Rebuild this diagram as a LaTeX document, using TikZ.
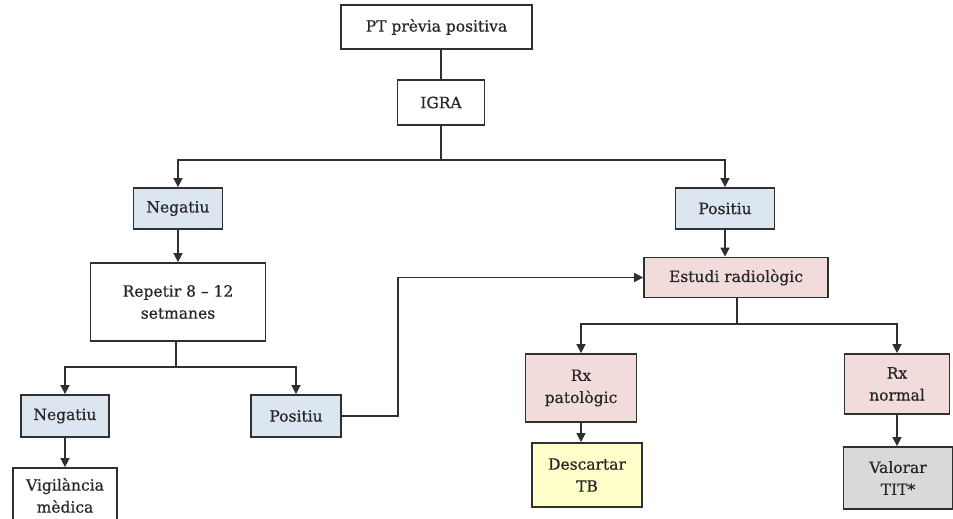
\documentclass[tikz,border=0pt]{standalone}
\usepackage{fontspec}
\setmainfont[FakeBold=0.6]{DejaVu Serif}
\usetikzlibrary{arrows.meta,calc}
\definecolor{ln}{HTML}{303030}
\definecolor{txt}{HTML}{262626}
\definecolor{bluef}{HTML}{DCE6F1}
\definecolor{pinkf}{HTML}{F2DCDB}
\definecolor{yelf}{HTML}{FFFFCC}
\definecolor{grayf}{HTML}{D9D9D9}
\tikzset{
  box/.style={draw=ln, line width=1.7pt, fill=white, inner sep=0pt, align=center,
    text=txt, font=\fontsize{15.5}{22}\selectfont},
  bluebox/.style={box, fill=bluef},
  pinkbox/.style={box, fill=pinkf},
  yelbox/.style={box, fill=yelf},
  graybox/.style={box, fill=grayf},
  conn/.style={draw=ln, line width=1.4pt},
  arr/.style={conn, -{Triangle[length=9pt,width=9pt]}}
}
\begin{document}
\begin{tikzpicture}[x=1pt,y=-1pt]
\useasboundingbox (0,0) rectangle (953,519);
\clip (0,0) rectangle (953,519);
% nodes
\node[box, minimum width=191pt, minimum height=44pt] (pt) at (436.5,27) {PT prèvia positiva};
\node[box, minimum width=87pt, minimum height=45pt] (igra) at (441,102.5) {IGRA};
\node[bluebox, minimum width=89pt, minimum height=41pt] (neg1) at (178,208.5) {Negatiu};
\node[bluebox, minimum width=99pt, minimum height=41pt] (pos1) at (725,208.5) {Positiu};
\node[box, minimum width=175pt, minimum height=78pt] (rep) at (178,302) {Repetir 8 – 12\\setmanes};
\node[bluebox, minimum width=88pt, minimum height=42pt] (neg2) at (65,416) {Negatiu};
\node[bluebox, minimum width=90pt, minimum height=42pt] (pos2) at (296,416) {Positiu};
\node[box, minimum width=104pt, minimum height=55pt] (vig) at (65,495.5) {Vigilància\\mèdica};
\node[pinkbox, minimum width=184pt, minimum height=40pt] (est) at (736,277.5) {Estudi radiològic};
\node[pinkbox, minimum width=111pt, minimum height=68pt] (rxp) at (581,388) {Rx\\patològic};
\node[yelbox, minimum width=110pt, minimum height=64pt] (desc) at (587,475) {Descartar\\TB};
\node[pinkbox, minimum width=105pt, minimum height=60pt] (rxn) at (897,384) {Rx\\normal};
\node[graybox, minimum width=109pt, minimum height=62pt] (val) at (898,478) {Valorar\\TIT*};
% coordinates
\coordinate (s1) at (441,160);
\coordinate (s2) at (176,367);
\coordinate (s3) at (737,324);
\coordinate (k) at (398,277.5);
% connectors
\draw[conn] (pt.south -| igra.north) -- (igra.north);
\draw[conn] (igra.south) -- (s1);
\draw[arr] (s1) -| (neg1.north);
\draw[arr] (s1) -| (pos1.north);
\draw[arr] (neg1.south) -- (neg1.south |- rep.north);
\draw[arr] (pos1.south) -- (pos1.south |- est.north);
\draw[conn] (rep.south -| s2) -- (s2);
\draw[arr] (s2) -| (neg2.north);
\draw[arr] (s2) -| (pos2.north);
\draw[arr] (neg2.south) -- (vig.north);
\draw[arr] (pos2.east) -| (k) -- (est.west);
\draw[conn] (est.south -| s3) -- (s3);
\draw[arr] (s3) -| (rxp.north);
\draw[arr] (s3) -| (rxn.north);
\draw[arr] (rxp.south) -- (rxp.south |- desc.north);
\draw[arr] (rxn.south) -- (rxn.south |- val.north);
\end{tikzpicture}
\end{document}
